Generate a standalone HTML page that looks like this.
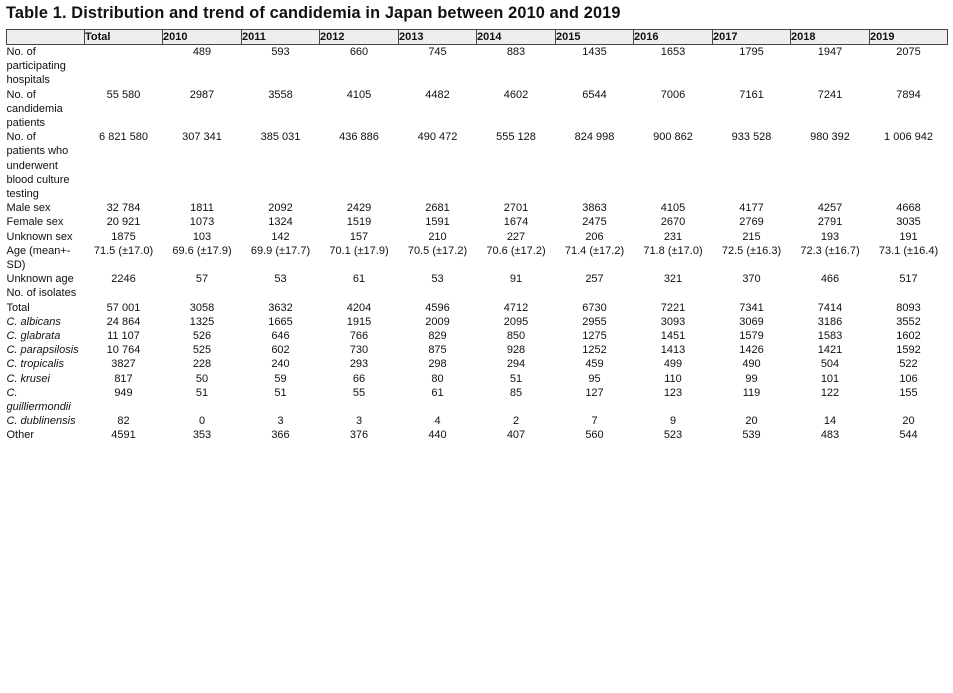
<!DOCTYPE html>
<html><head><meta charset="utf-8"><style>
body{margin:0;background:#fff;width:953px;height:693px;overflow:hidden;font-family:"Liberation Sans",Arial,sans-serif;color:#111}
.t{position:absolute;left:6px;top:4px;font-weight:bold;font-size:16.3px;letter-spacing:0.15px}
table{position:absolute;left:6px;top:29px;border-collapse:collapse;table-layout:fixed;font-size:11px}
td{padding:0;line-height:14.2px;vertical-align:top;text-align:center;overflow:visible;white-space:nowrap}
td:first-child{text-align:left;white-space:normal}
tr.h td{background:#eee;border:1px solid #444;font-weight:bold;text-align:left;height:14px;line-height:14px;padding-left:0}
i{font-style:italic}
</style></head><body>
<div class="t">Table 1. Distribution and trend of candidemia in Japan between 2010 and 2019</div>
<table>
<colgroup><col style="width:78px"><col style="width:78px"><col style="width:79px"><col style="width:78px"><col style="width:79px"><col style="width:78px"><col style="width:79px"><col style="width:78px"><col style="width:79px"><col style="width:78px"><col style="width:79px"><col style="width:78px"></colgroup>
<tr class="h"><td></td><td>Total</td><td>2010</td><td>2011</td><td>2012</td><td>2013</td><td>2014</td><td>2015</td><td>2016</td><td>2017</td><td>2018</td><td>2019</td></tr>
<tr><td>No. of<br>participating<br>hospitals</td><td></td><td>489</td><td>593</td><td>660</td><td>745</td><td>883</td><td>1435</td><td>1653</td><td>1795</td><td>1947</td><td>2075</td></tr>
<tr><td>No. of<br>candidemia<br>patients</td><td>55 580</td><td>2987</td><td>3558</td><td>4105</td><td>4482</td><td>4602</td><td>6544</td><td>7006</td><td>7161</td><td>7241</td><td>7894</td></tr>
<tr><td>No. of<br>patients who<br>underwent<br>blood culture<br>testing</td><td>6 821 580</td><td>307 341</td><td>385 031</td><td>436 886</td><td>490 472</td><td>555 128</td><td>824 998</td><td>900 862</td><td>933 528</td><td>980 392</td><td>1 006 942</td></tr>
<tr><td>Male sex</td><td>32 784</td><td>1811</td><td>2092</td><td>2429</td><td>2681</td><td>2701</td><td>3863</td><td>4105</td><td>4177</td><td>4257</td><td>4668</td></tr>
<tr><td>Female sex</td><td>20 921</td><td>1073</td><td>1324</td><td>1519</td><td>1591</td><td>1674</td><td>2475</td><td>2670</td><td>2769</td><td>2791</td><td>3035</td></tr>
<tr><td>Unknown sex</td><td>1875</td><td>103</td><td>142</td><td>157</td><td>210</td><td>227</td><td>206</td><td>231</td><td>215</td><td>193</td><td>191</td></tr>
<tr><td>Age (mean+-<br>SD)</td><td>71.5 (±17.0)</td><td>69.6 (±17.9)</td><td>69.9 (±17.7)</td><td>70.1 (±17.9)</td><td>70.5 (±17.2)</td><td>70.6 (±17.2)</td><td>71.4 (±17.2)</td><td>71.8 (±17.0)</td><td>72.5 (±16.3)</td><td>72.3 (±16.7)</td><td>73.1 (±16.4)</td></tr>
<tr><td>Unknown age</td><td>2246</td><td>57</td><td>53</td><td>61</td><td>53</td><td>91</td><td>257</td><td>321</td><td>370</td><td>466</td><td>517</td></tr>
<tr><td>No. of isolates</td><td></td><td></td><td></td><td></td><td></td><td></td><td></td><td></td><td></td><td></td><td></td></tr>
<tr><td>Total</td><td>57 001</td><td>3058</td><td>3632</td><td>4204</td><td>4596</td><td>4712</td><td>6730</td><td>7221</td><td>7341</td><td>7414</td><td>8093</td></tr>
<tr><td><i>C. albicans</i></td><td>24 864</td><td>1325</td><td>1665</td><td>1915</td><td>2009</td><td>2095</td><td>2955</td><td>3093</td><td>3069</td><td>3186</td><td>3552</td></tr>
<tr><td><i>C. glabrata</i></td><td>11 107</td><td>526</td><td>646</td><td>766</td><td>829</td><td>850</td><td>1275</td><td>1451</td><td>1579</td><td>1583</td><td>1602</td></tr>
<tr><td><i>C. parapsilosis</i></td><td>10 764</td><td>525</td><td>602</td><td>730</td><td>875</td><td>928</td><td>1252</td><td>1413</td><td>1426</td><td>1421</td><td>1592</td></tr>
<tr><td><i>C. tropicalis</i></td><td>3827</td><td>228</td><td>240</td><td>293</td><td>298</td><td>294</td><td>459</td><td>499</td><td>490</td><td>504</td><td>522</td></tr>
<tr><td><i>C. krusei</i></td><td>817</td><td>50</td><td>59</td><td>66</td><td>80</td><td>51</td><td>95</td><td>110</td><td>99</td><td>101</td><td>106</td></tr>
<tr><td><i>C.<br>guilliermondii</i></td><td>949</td><td>51</td><td>51</td><td>55</td><td>61</td><td>85</td><td>127</td><td>123</td><td>119</td><td>122</td><td>155</td></tr>
<tr><td><i>C. dublinensis</i></td><td>82</td><td>0</td><td>3</td><td>3</td><td>4</td><td>2</td><td>7</td><td>9</td><td>20</td><td>14</td><td>20</td></tr>
<tr><td>Other</td><td>4591</td><td>353</td><td>366</td><td>376</td><td>440</td><td>407</td><td>560</td><td>523</td><td>539</td><td>483</td><td>544</td></tr>
</table>
</body></html>
